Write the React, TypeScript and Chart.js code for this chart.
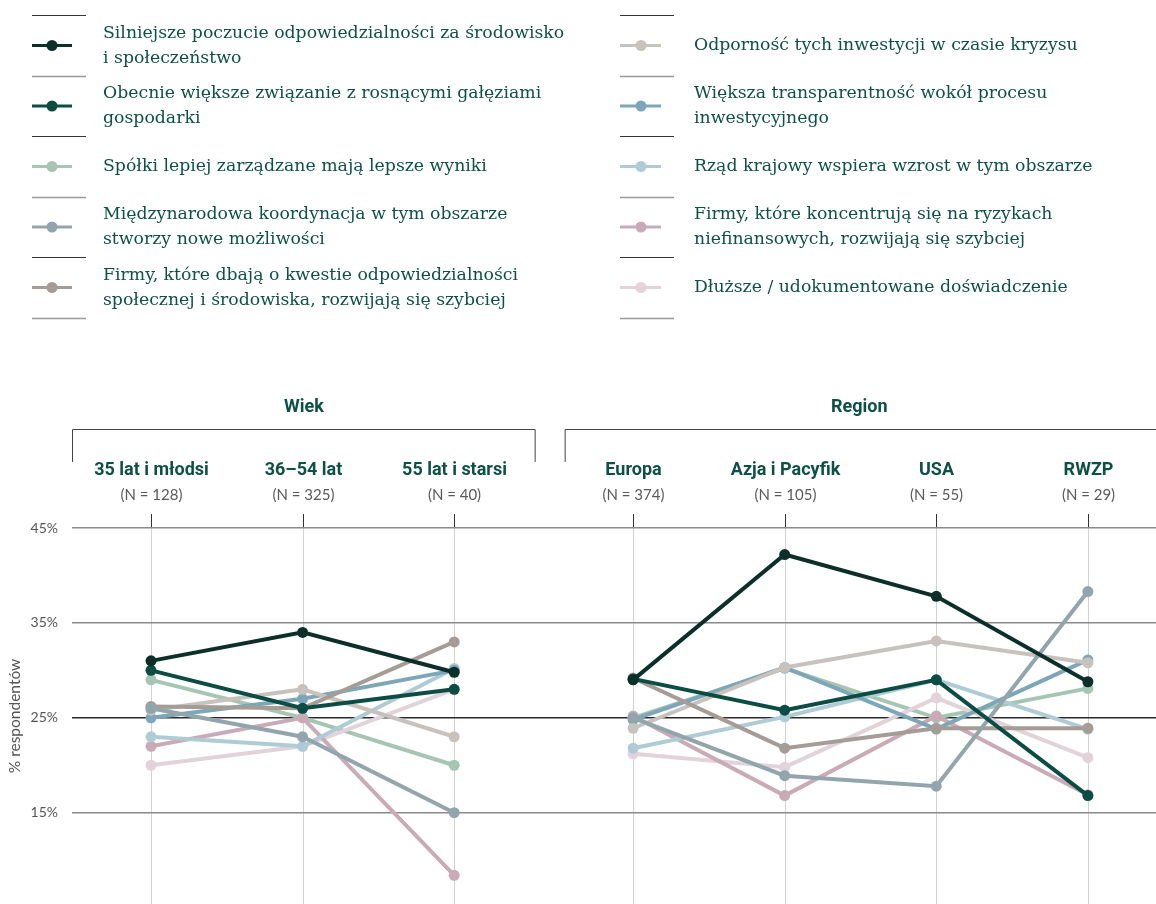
import React, { useEffect, useRef } from "react";
import { Chart, registerables } from "chart.js";

Chart.register(...registerables);

// ---------- DATA ----------
const groupTitles = ["Wiek", "Region"];
const ageCategories = ["35 lat i młodsi", "36–54 lat", "55 lat i starsi"];
const ageCounts = ["(N = 128)", "(N = 325)", "(N = 40)"];
const regionCategories = ["Europa", "Azja i Pacyfik", "USA", "RWZP"];
const regionCounts = ["(N = 374)", "(N = 105)", "(N = 55)", "(N = 29)"];
const yTicks = [15, 25, 35, 45];
const yTitle = "% respondentów";

const seriesNames = [
  "Silniejsze poczucie odpowiedzialności za środowisko\ni społeczeństwo",
  "Obecnie większe związanie z rosnącymi gałęziami\ngospodarki",
  "Spółki lepiej zarządzane mają lepsze wyniki",
  "Międzynarodowa koordynacja w tym obszarze\nstworzy nowe możliwości",
  "Firmy, które dbają o kwestie odpowiedzialności\nspołecznej i środowiska, rozwijają się szybciej",
  "Odporność tych inwestycji w czasie kryzysu",
  "Większa transparentność wokół procesu\ninwestycyjnego",
  "Rząd krajowy wspiera wzrost w tym obszarze",
  "Firmy, które koncentrują się na ryzykach\nniefinansowych, rozwijają się szybciej",
  "Dłuższe / udokumentowane doświadczenie",
];

// values per series: age groups
const ageValues: number[][] = [
  [31, 34, 29.8],
  [30, 26, 28],
  [29, 25, 20],
  [26, 23, 15],
  [26.2, 26, 33],
  [25.8, 28, 23],
  [25, 27, 30],
  [23, 22, 30.2],
  [22, 25, 8.4],
  [20, 22, 28],
];

// values per series: regions
const regionValues: number[][] = [
  [29, 42.2, 37.8, 28.8],
  [29.1, 25.8, 29, 16.8],
  [25, 30.2, 25, 28.1],
  [25, 18.9, 17.8, 38.3],
  [29.2, 21.8, 23.9, 23.9],
  [23.9, 30.3, 33.1, 30.8],
  [24.8, 30.3, 23.8, 31.1],
  [21.8, 25.1, 29, 23.8],
  [25.2, 16.8, 25.2, 16.9],
  [21.2, 19.8, 27.1, 20.8],
];

// ---------- STYLES ----------
const seriesColors = [
  "#0c2f2a",
  "#0b4d42",
  "#a6c6b3",
  "#93a5ac",
  "#a59c95",
  "#c8c2bd",
  "#7da7b9",
  "#aecbd6",
  "#c9aab7",
  "#e2d2d9",
];
// drawing order (higher = further back)
const seriesOrder = [0, 1, 10, 3, 4, 5, 6, 7, 8, 9];
const GROUP_GAP = 0.18;
const TEXT_GREEN = "#0d5146";
const W = 1156;
const H = 904;

function xOf(group: number, j: number) {
  return group === 0 ? j : ageCategories.length + GROUP_GAP + j;
}

const decorPlugin = {
  id: "decor",
  beforeDraw(chart: any) {
    const ctx = chart.ctx as CanvasRenderingContext2D;
    const xs = chart.scales.x;
    const area = chart.chartArea;
    ctx.save();

    // legend
    const cols = [
      { sepL: 32, sepR: 86, lineL: 32, lineR: 72, dot: 52, text: 103 },
      { sepL: 620, sepR: 674, lineL: 620, lineR: 661, dot: 641, text: 694 },
    ];
    const sepYs = [15, 76, 136, 197, 257, 318];
    for (let c = 0; c < 2; c++) {
      const col = cols[c];
      sepYs.forEach((y, k) => {
        ctx.strokeStyle = k % 2 === 0 ? "#333" : "#999";
        ctx.lineWidth = k % 2 === 0 ? 1 : 1.5;
        ctx.beginPath();
        ctx.moveTo(col.sepL, y + 0.5);
        ctx.lineTo(col.sepR, y + 0.5);
        ctx.stroke();
      });
      for (let r = 0; r < 5; r++) {
        const i = c * 5 + r;
        const cy = (sepYs[r] + sepYs[r + 1]) / 2;
        ctx.strokeStyle = seriesColors[i];
        ctx.lineWidth = 3;
        ctx.beginPath();
        ctx.moveTo(col.lineL, cy);
        ctx.lineTo(col.lineR, cy);
        ctx.stroke();
        ctx.fillStyle = seriesColors[i];
        ctx.beginPath();
        ctx.arc(col.dot, cy, 5.5, 0, Math.PI * 2);
        ctx.fill();
        const lines = seriesNames[i].split("\n");
        ctx.font = '17.3px "DejaVu Serif"';
        ctx.fillStyle = TEXT_GREEN;
        ctx.textAlign = "left";
        ctx.textBaseline = "middle";
        lines.forEach((ln, k) => {
          ctx.fillText(ln, col.text, cy + 0.5 + (k - (lines.length - 1) / 2) * 25);
        });
      }
    }

    // group headers
    const gapMid =
      (xs.getPixelForValue(xOf(0, ageCategories.length - 1)) + xs.getPixelForValue(xOf(1, 0))) / 2;
    const brackets = [
      [area.left, gapMid - 8],
      [gapMid + 21, W + 2],
    ];
    brackets.forEach(([l, r], g) => {
      ctx.strokeStyle = "#444";
      ctx.lineWidth = 1;
      ctx.beginPath();
      ctx.moveTo(l + 0.5, 462);
      ctx.lineTo(l + 0.5, 429.5);
      ctx.lineTo(r - 0.5, 429.5);
      ctx.lineTo(r - 0.5, 462);
      ctx.stroke();
      ctx.font = 'bold 18px "Roboto"';
      ctx.fillStyle = TEXT_GREEN;
      ctx.textAlign = "center";
      ctx.textBaseline = "middle";
      ctx.fillText(groupTitles[g], (l + r) / 2 + (g === 1 ? -2 : 0), 407);
    });

    // category labels & vertical lines
    const cats = [
      { names: ageCategories, counts: ageCounts, g: 0 },
      { names: regionCategories, counts: regionCounts, g: 1 },
    ];
    cats.forEach(({ names, counts, g }) => {
      names.forEach((nm, j) => {
        const px = Math.round(xs.getPixelForValue(xOf(g, j))) + 0.5;
        ctx.font = 'bold 18px "Roboto"';
        ctx.fillStyle = TEXT_GREEN;
        ctx.textAlign = "center";
        ctx.textBaseline = "middle";
        ctx.fillText(nm, px, 470);
        ctx.font = '15px "Lato"';
        ctx.fillStyle = "#5a5a5a";
        ctx.fillText(counts[j], px, 495);
        ctx.lineWidth = 1;
        ctx.strokeStyle = "#333";
        ctx.beginPath();
        ctx.moveTo(px, 514);
        ctx.lineTo(px, area.top);
        ctx.stroke();
        ctx.strokeStyle = "#d2d2d2";
        ctx.beginPath();
        ctx.moveTo(px, area.top);
        ctx.lineTo(px, H);
        ctx.stroke();
      });
    });
    ctx.restore();
  },
};

export default function App() {
  const ref = useRef<HTMLCanvasElement | null>(null);

  useEffect(() => {
    document.body.style.margin = "0";
    const canvas = ref.current;
    if (!canvas) return;

    const datasets = seriesNames.map((name, i) => ({
      label: name,
      order: seriesOrder[i],
      data: [
        ...ageValues[i].map((v, j) => ({ x: xOf(0, j), y: v })),
        { x: ageCategories.length - 1 + (1 + GROUP_GAP) / 2, y: null },
        ...regionValues[i].map((v, j) => ({ x: xOf(1, j), y: v })),
      ],
      borderColor: seriesColors[i],
      backgroundColor: seriesColors[i],
      pointBackgroundColor: seriesColors[i],
      pointBorderWidth: 0,
      pointRadius: 5.5,
      borderWidth: 4,
      spanGaps: false,
      tension: 0,
      clip: false as any,
    }));

    const pxPerUnit = 151.6;
    const left = 72;
    const firstX = 151;

    const chart = new Chart(canvas, {
      type: "line",
      data: { datasets: datasets as any },
      options: {
        responsive: false,
        animation: false,
        layout: { autoPadding: false, padding: { top: 528, left: 0, right: 0, bottom: 0 } },
        plugins: { legend: { display: false }, tooltip: { enabled: false } },
        scales: {
          x: {
            type: "linear",
            display: false,
            min: -(firstX - left) / pxPerUnit,
            max: (W - firstX) / pxPerUnit,
          },
          y: {
            min: 5.38,
            max: 45,
            afterBuildTicks: (s: any) => {
              s.ticks = yTicks.map((v) => ({ value: v }));
            },
            afterFit: (s: any) => {
              s.width = 72;
              s.paddingTop = 0;
              s.paddingBottom = 0;
            },
            grid: {
              color: (c: any) => (c.tick && c.tick.value === 25 ? "#2a2a2a" : "#8a8a8a"),
              lineWidth: 1.5,
              drawTicks: false,
            },
            border: { display: false },
            ticks: {
              padding: 14,
              color: "#555",
              font: { family: "Lato", size: 14 },
              callback: (v: any) => v + "%",
            },
            title: {
              display: true,
              text: yTitle,
              color: "#555",
              font: { family: "Lato", size: 15.5 },
              padding: { top: 6, bottom: 0 },
            },
          },
        },
      },
      plugins: [decorPlugin],
    });

    const fonts = ['17.3px "DejaVu Serif"', 'bold 18px "Roboto"', '15px "Lato"', '14px "Lato"'];
    Promise.all(fonts.map((f) => document.fonts.load(f)))
      .then(() => chart.update())
      .catch(() => {});

    return () => chart.destroy();
  }, []);

  return (
    <div style={{ width: W, height: H, position: "relative" }}>
      <canvas ref={ref} width={W} height={H} style={{ display: "block" }} />
    </div>
  );
}
